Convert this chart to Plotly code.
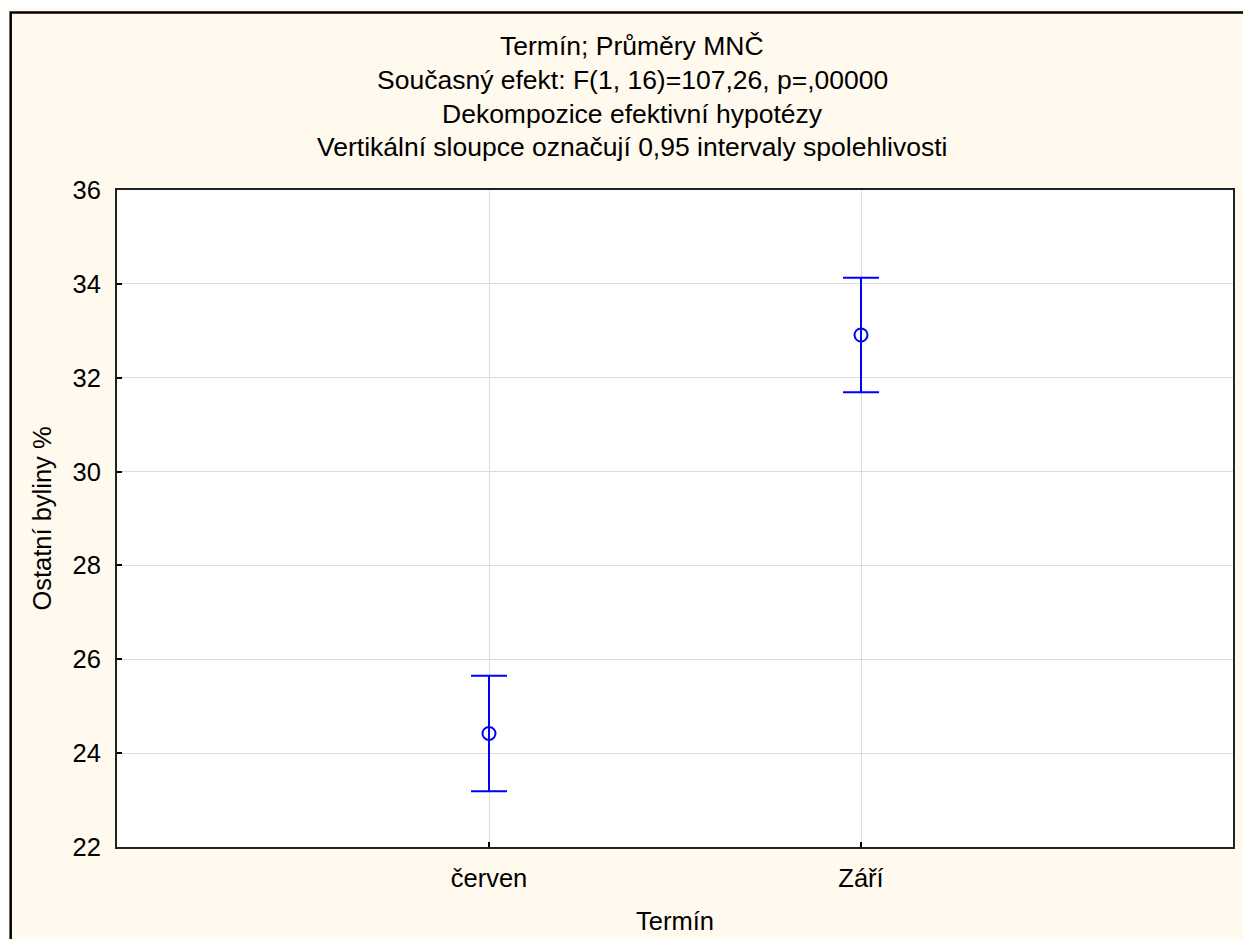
import plotly.graph_objects as go

categories = ["červen", "Září"]
means = [24.42, 32.91]
ci_half = [1.23, 1.22]
y_ticks = [22, 24, 26, 28, 30, 32, 34, 36]
title_lines = [
    "Termín; Průměry MNČ",
    "Současný efekt: F(1, 16)=107,26, p=,00000",
    "Dekompozice efektivní hypotézy",
    "Vertikální sloupce označují 0,95 intervaly spolehlivosti",
]

# page has an 8px body margin; size the figure so no scrollbars appear
OFF = 8
W, H = 1251 - 2 * OFF, 947 - 2 * OFF
L, R, T, B = 117, 1235, 190, 849  # plot area in page pixels
pw, ph = R - L, B - T

def px(x):
    return (x - L) / pw

def py(y):
    return (B - y) / ph

blue = "rgb(0,0,255)"
font = "Liberation Sans, Arial, sans-serif"
cream = "#FFF9EE"
fs = 25.5
fst = 26.5

fig = go.Figure()
fig.add_trace(go.Scatter(
    x=[0, 1], y=means, mode="markers",
    marker=dict(symbol="circle-open", size=13, color=blue, line=dict(width=2, color=blue)),
    error_y=dict(type="data", array=ci_half, visible=True, color=blue, thickness=2, width=18),
    showlegend=False, hoverinfo="skip",
))

shapes = [
    dict(type="rect", xref="paper", yref="paper", x0=px(10.5), x1=px(1400), y0=py(1100), y1=py(12),
         fillcolor=cream, line=dict(color="black", width=2.5), layer="below"),
    dict(type="rect", xref="paper", yref="paper", x0=0, x1=1, y0=0, y1=1,
         fillcolor="white", line=dict(width=0), layer="below"),
]

annotations = []
for i, t in enumerate(title_lines):
    annotations.append(dict(text=t, xref="paper", yref="paper", x=px(633), y=py(46 + i * 33.7),
                            xanchor="center", yanchor="middle", showarrow=False,
                            font=dict(family=font, size=fst, color="black")))

fig.update_layout(
    width=W, height=H,
    margin=dict(l=L - OFF, r=(OFF + W) - R, t=T - OFF, b=(OFF + H) - B, pad=0),
    paper_bgcolor=cream, plot_bgcolor="white",
    font=dict(family=font, size=fs, color="black"),
    shapes=shapes, annotations=annotations,
    xaxis=dict(range=[-1, 2], tickvals=[0, 1], ticktext=categories,
               showgrid=True, gridcolor="#DCDCDC", gridwidth=1,
               ticks="inside", ticklen=5, tickcolor="black", tickwidth=1.5,
               showline=True, linecolor="#222222", linewidth=2, mirror=True,
               zeroline=False, tickfont=dict(size=fs), ticklabelstandoff=7,
               title=dict(text="Termín", font=dict(size=fs), standoff=22)),
    yaxis=dict(range=[22, 36], tickvals=y_ticks,
               showgrid=True, gridcolor="#DCDCDC", gridwidth=1,
               ticks="inside", ticklen=5, tickcolor="black", tickwidth=1.5,
               showline=True, linecolor="#222222", linewidth=2, mirror=True,
               zeroline=False, tickfont=dict(size=fs), ticklabelstandoff=9,
               title=dict(text="Ostatní byliny %", font=dict(size=fs), standoff=14)),
)

fig.write_html("out.html")
